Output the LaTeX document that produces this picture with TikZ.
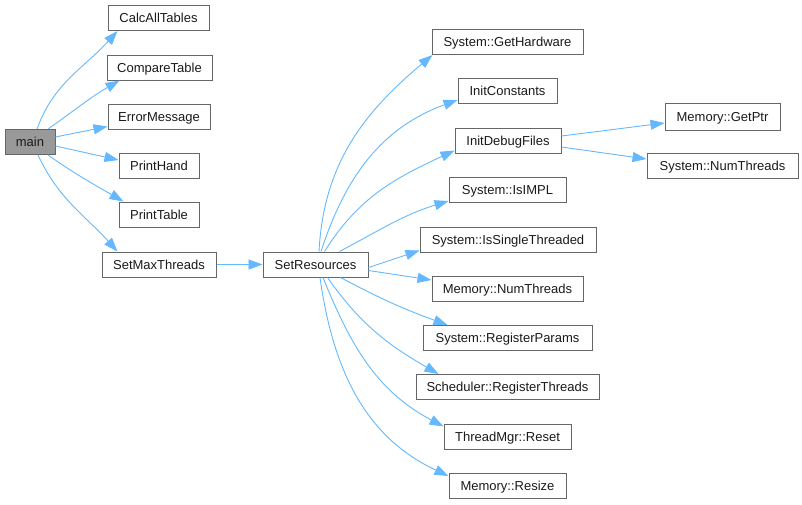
\documentclass[tikz,border=0pt]{standalone}
\usepackage{fontspec}
\setmainfont{Liberation Sans}
\usepackage{xcolor}
\usetikzlibrary{arrows.meta}
\definecolor{cgEdge}{HTML}{63B8FF}
\definecolor{cgBorder}{HTML}{666666}
\definecolor{cgRoot}{HTML}{999999}
\definecolor{cgText}{HTML}{1A1A1A}

\begin{document}
\begin{tikzpicture}[
    x=1pt,y=1pt,
    font=\fontsize{13}{15}\selectfont,
    fn/.style={draw=cgBorder,line width=1pt,fill=white,minimum height=25pt,
               inner sep=0pt,text height=9.3pt,text depth=0pt,text=cgText},
    root/.style={fn,fill=cgRoot},
    call/.style={-{Triangle[length=14pt,width=10pt]},draw=cgEdge,line width=0.9pt}
  ]
    \useasboundingbox (0,0) rectangle (802,-504);

    \node[root,minimum width=50pt]  (main)       at (30,-142)    {main};
    \node[fn,minimum width=101pt]   (calc)       at (158.5,-18)  {CalcAllTables};
    \node[fn,minimum width=105pt]   (compare)    at (159.5,-67.5) {CompareTable};
    \node[fn,minimum width=102pt]   (errmsg)     at (159,-116.5) {ErrorMessage};
    \node[fn,minimum width=80pt]    (printhand)  at (159,-165.5) {PrintHand};
    \node[fn,minimum width=80pt]    (printtable) at (159,-214.5) {PrintTable};
    \node[fn,minimum width=114pt]   (setmax)     at (159,-264.5) {SetMaxThreads};
    \node[fn,minimum width=105pt]   (setres)     at (315.5,-264.5) {SetResources};

    \node[fn,minimum width=151pt]   (gethw)      at (507.5,-42)  {System::GetHardware};
    \node[fn,minimum width=99pt]    (initconst)  at (507.5,-91)  {InitConstants};
    \node[fn,minimum width=106pt]   (initdebug)  at (508,-140.5) {InitDebugFiles};
    \node[fn,minimum width=117pt]   (isimpl)     at (507.5,-190) {System::IsIMPL};
    \node[fn,minimum width=176pt]   (issingle)   at (508,-239.5) {System::IsSingleThreaded};
    \node[fn,minimum width=151pt]   (memnum)     at (507.5,-289) {Memory::NumThreads};
    \node[fn,minimum width=169pt]   (regparams)  at (507.5,-338) {System::RegisterParams};
    \node[fn,minimum width=183pt]   (regthreads) at (507.5,-387) {Scheduler::RegisterThreads};
    \node[fn,minimum width=127pt]   (tmreset)    at (507.5,-436.5) {ThreadMgr::Reset};
    \node[fn,minimum width=117pt]   (memresize)  at (507.5,-486) {Memory::Resize};

    \node[fn,minimum width=115pt,minimum height=27pt] (getptr) at (722.5,-116.5) {Memory::GetPtr};
    \node[fn,minimum width=151pt]   (sysnum)     at (722.5,-166) {System::NumThreads};

    % calls from main
    \draw[call] ([xshift=7pt]main.north)  to[out=70,in=-132] ([xshift=10pt]calc.south west);
    \draw[call] ([xshift=18pt]main.north) to[out=35,in=-150] ([xshift=13pt]compare.south west);
    \draw[call] ([yshift=5pt]main.east)   -- ([yshift=3pt]errmsg.south west);
    \draw[call] ([yshift=-4pt]main.east)  -- ([yshift=5.5pt]printhand.west);
    \draw[call] ([xshift=18pt]main.south) to[out=-35,in=150] ([xshift=5pt]printtable.north west);
    \draw[call] ([xshift=8pt]main.south)  to[out=-65,in=132] ([xshift=16pt]setmax.north west);
    \draw[call] (setmax) -- (setres);

    % calls from SetResources
    \draw[call] ([xshift=3.5pt]setres.north)  to[out=87,in=-140] ([xshift=1pt]gethw.south west);
    \draw[call] ([xshift=5.5pt]setres.north)  to[out=72,in=-160] ([yshift=4pt]initconst.south west);
    \draw[call] ([xshift=9pt]setres.north)    to[out=58,in=-155] ([yshift=3pt]initdebug.south west);
    \draw[call] ([xshift=24pt]setres.north)   to[out=28,in=-163] ([yshift=2pt]isimpl.south west);
    \draw[call] ([yshift=-3pt]setres.east)    -- ([yshift=2pt]issingle.south west);
    \draw[call] ([yshift=-6pt]setres.east)    -- ([yshift=-4pt]memnum.north west);
    \draw[call] ([xshift=25pt]setres.south)   to[out=-28,in=160] ([xshift=25pt]regparams.north west);
    \draw[call] ([xshift=12pt]setres.south)   to[out=-55,in=150] ([xshift=23pt]regthreads.north west);
    \draw[call] ([xshift=7.5pt]setres.south)  to[out=-68,in=152] ([yshift=-3pt]tmreset.north west);
    \draw[call] ([xshift=4.5pt]setres.south)  to[out=-82,in=155] ([yshift=-3pt]memresize.north west);

    \draw[call] ([yshift=4.5pt]initdebug.east)  -- ([yshift=-6.5pt]getptr.west);
    \draw[call] ([yshift=-6.5pt]initdebug.east) -- ([yshift=7pt]sysnum.west);
\end{tikzpicture}
\end{document}
